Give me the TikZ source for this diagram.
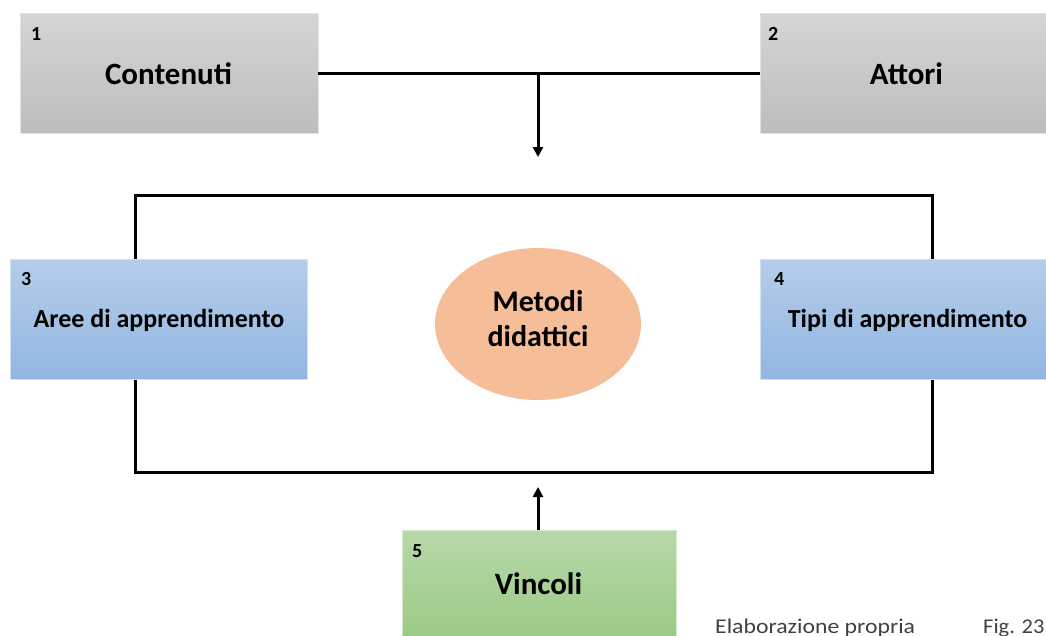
\documentclass[tikz,border=0pt]{standalone}
\usepackage{fontspec}
\setmainfont{Carlito}
\usetikzlibrary{shapes.geometric,arrows.meta,positioning}
\definecolor{greyTop}{HTML}{D5D5D5}
\definecolor{greyBot}{HTML}{BDBDBD}
\definecolor{blueTop}{HTML}{B4CDEA}
\definecolor{blueBot}{HTML}{92B6E1}
\definecolor{greenTop}{HTML}{B7D8A8}
\definecolor{greenBot}{HTML}{9ACA84}
\definecolor{peach}{HTML}{F5BE98}
\tikzset{
  x=1pt, y=-1pt,
  box/.style={rectangle, inner sep=0pt},
  greybox/.style={box, top color=greyTop, bottom color=greyBot, draw=greyTop!70!white, line width=0.8pt},
  bluebox/.style={box, top color=blueTop, bottom color=blueBot, draw=blueTop!60!white, line width=0.8pt},
  greenbox/.style={box, top color=greenTop, bottom color=greenBot, draw=greenTop!60!white, line width=0.8pt},
  bigtext/.style={inner sep=0pt, font=\fontsize{31}{34}\selectfont\bfseries},
  midtext/.style={inner sep=0pt, font=\fontsize{26}{30}\selectfont\bfseries},
  numlabel/.style={anchor=north west, inner sep=0pt, font=\fontsize{20}{22}\selectfont\bfseries},
  caption/.style={anchor=base west, inner sep=0pt, font=\fontsize{21}{24}\selectfont, text=black!75},
  link/.style={line width=3pt, draw=black},
  arr/.style={link, -{Triangle[length=10pt, width=10pt]}},
}
\begin{document}
\begin{tikzpicture}
\useasboundingbox (0,0) rectangle (1046,635);

% outer frame around the central element
\draw[link] (135,195) rectangle (932,472);

% top boxes
\node[greybox, minimum width=298pt, minimum height=120pt] (cont) at (169,73) {};
\node[bigtext] (contlbl) at (168.5,74) {Contenuti};
\node[greybox, minimum width=290pt, minimum height=120pt] (att) at (905,73) {};
\node[bigtext] (attlbl) at (906.5,74) {Attori};
\node[numlabel] (n1) at (31,27) {1};
\node[numlabel] (n2) at (768,27) {2};

% side boxes
\node[bluebox, minimum width=297pt, minimum height=120pt] (aree) at (158.5,319) {};
\node[midtext] (areelbl) at (159,320) {Aree di apprendimento};
\node[bluebox, minimum width=290pt, minimum height=120pt] (tipi) at (905,319) {};
\node[midtext] (tipilbl) at (907.5,320) {Tipi di apprendimento};
\node[numlabel] (n3) at (21,272) {3};
\node[numlabel] (n4) at (774,272) {4};

% central ellipse
\node[ellipse, fill=peach, minimum width=206pt, minimum height=152pt, inner sep=0pt] (met) at (538,324) {};
\node[inner sep=0pt, align=center, font=\fontsize{30}{35}\selectfont\bfseries] (metlbl) at (538,319) {Metodi\\didattici};

% bottom box
\node[greenbox, minimum width=274pt, minimum height=112pt, anchor=north] (vinc) at (539,530) {};
\node[bigtext] (vinclbl) at (538.5,584) {Vincoli};
\node[numlabel] (n5) at (412,544) {5};

% connectors
\coordinate (mid) at (538,72);
\coordinate (frametop) at (538,157);
\coordinate (framebot) at (538,487);
\draw[link] (cont.east) -- (att.west);
\draw[arr] (mid) -- (frametop);
\draw[arr] (vinc.north -| framebot) -- (framebot);

% caption
\node[caption] (src) at (715,633) {\scalebox{1.13}[1]{Elaborazione propria}};
\node[caption] (fig) at (983,633) {\scalebox{1.07}[1]{Fig. 23}};
\end{tikzpicture}
\end{document}
